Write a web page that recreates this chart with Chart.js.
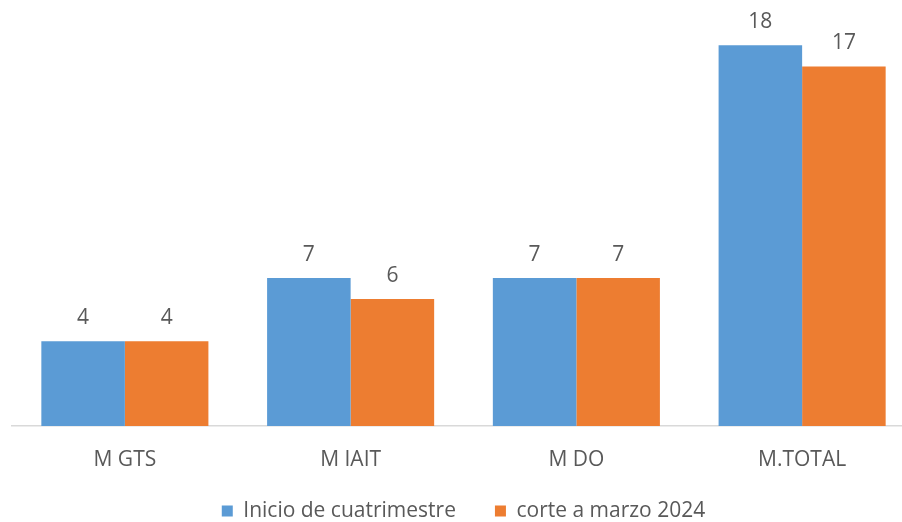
<!DOCTYPE html>
<html><head><meta charset="utf-8">
<script src="https://cdn.jsdelivr.net/npm/chart.js@4"></script>
<style>html,body{margin:0;padding:0;background:#fff;overflow:hidden;width:902px;height:522px}</style>
</head><body>
<canvas id="c" width="920" height="522" style="width:920px;height:522px;display:block"></canvas>
<script>
const categories = ["M GTS", "M IAIT", "M DO", "M.TOTAL"];
const inicioValues = [4, 7, 7, 18];
const corteValues = [4, 6, 7, 17];
const seriesNames = ["Inicio de cuatrimestre", "corte a marzo 2024"];

const FONT = "'Open Sans', 'Liberation Sans', sans-serif";
const labelPlugin = {
  id: 'valLabels',
  afterDatasetsDraw(chart) {
    const ctx = chart.ctx;
    ctx.save();
    ctx.font = "21px " + FONT;
    ctx.fillStyle = "#595959";
    ctx.textAlign = "center";
    ctx.textBaseline = "alphabetic";
    chart.data.datasets.forEach((ds, i) => {
      chart.getDatasetMeta(i).data.forEach((bar, j) => {
        ctx.fillText(String(ds.data[j]), bar.x, bar.y - 17);
      });
    });
    ctx.restore();
  }
};
// let the legend box sit a little higher than the stacked layout would place it
const legendShift = {
  id: 'legendShift',
  afterLayout(chart) {
    const lg = chart.legend;
    if (!lg) return;
    lg.top = 461.5;
    lg.bottom = 522;
    lg.height = lg.bottom - lg.top;
  }
};

new Chart(document.getElementById('c'), {
  type: 'bar',
  data: {
    labels: categories,
    datasets: [
      {label: seriesNames[0], data: inicioValues, backgroundColor: '#5B9BD5'},
      {label: seriesNames[1], data: corteValues, backgroundColor: '#ED7D31'}
    ]
  },
  options: {
    responsive: false,
    animation: false,
    devicePixelRatio: 1,
    layout: {padding: {left: 12, right: 5, top: 3, bottom: 0}},
    datasets: {bar: {barPercentage: 1, categoryPercentage: 0.74}},
    scales: {
      x: {
        grid: {display: false, drawTicks: false},
        border: {display: true, color: '#D9D9D9', width: 1.5},
        ticks: {color: '#595959', font: {family: FONT, size: 21, lineHeight: 0.1}, padding: 33.5}
      },
      y: {display: false, min: 0, max: 20}
    },
    plugins: {
      legend: {
        position: 'bottom',
        maxHeight: 27,
        labels: {color: '#595959', font: {family: FONT, size: 21}, boxWidth: 11, boxHeight: 11, padding: 39}
      },
      tooltip: {enabled: false}
    }
  },
  plugins: [labelPlugin, legendShift]
});
</script>
</body></html>
